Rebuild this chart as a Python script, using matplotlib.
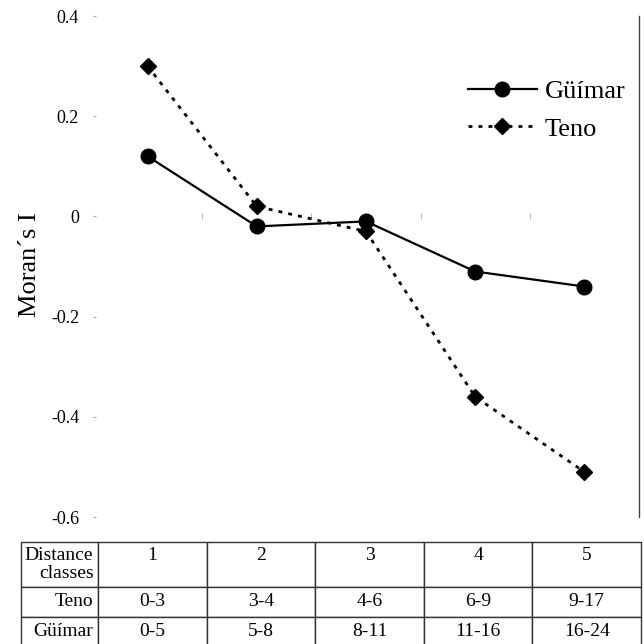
import matplotlib
matplotlib.use("Agg")
import matplotlib.pyplot as plt

plt.rcParams['font.family'] = ['Liberation Serif', 'DejaVu Serif']

# distance classes and Moran's I values
classes = [1, 2, 3, 4, 5]
guimar_i = [0.12, -0.02, -0.01, -0.11, -0.14]
teno_i = [0.30, 0.02, -0.03, -0.36, -0.51]

yticks = [-0.6, -0.4, -0.2, 0, 0.2, 0.4]
ytick_labels = ["-0.6", "-0.4", "-0.2", "0", "0.2", "0.4"]

# table below the chart
table_header = ["Distance\nclasses", "1", "2", "3", "4", "5"]
teno_ranges = ["0-3", "3-4", "4-6", "6-9", "9-17"]
guimar_ranges = ["0-5", "5-8", "8-11", "11-16", "16-24"]

fig = plt.figure(figsize=(6.44, 6.44), dpi=100)
W = 644.0
ax = fig.add_axes([93 / W, 1 - 517 / W, 546 / W, 501 / W])

ax.plot(classes, guimar_i, color='black', lw=1.6, marker='o', ms=10.5,
        label=u"Güímar")
ax.plot(classes, teno_i, color='black', lw=2, ls=(0, (1.4, 2.2)),
        marker='D', ms=8, label="Teno")

ax.set_xlim(0.5, 5.5)
ax.set_ylim(-0.6, 0.4)
ax.set_yticks(yticks)
ax.set_yticklabels(ytick_labels)
ax.tick_params(axis='y', direction='in', length=2, color='#aaaaaa',
               labelsize=13, pad=10)
ax.set_xticks([1.5, 2.5, 3.5, 4.5])
ax.set_xticklabels([])
ax.tick_params(axis='x', direction='inout', length=5, color='#bbbbbb')
ax.spines['bottom'].set_position(('data', 0))
ax.spines['bottom'].set_visible(False)
ax.spines['top'].set_visible(False)
ax.spines['left'].set_visible(False)
ax.spines['right'].set_color('#444444')
ax.spines['right'].set_linewidth(1)

fig.text(30 / W, 1 - 265 / W, u"Moran\u00b4s I", rotation=90,
         ha='center', va='center', fontsize=19)

leg = ax.legend(loc='center left', bbox_to_anchor=(468 / W, 1 - 110 / W),
                bbox_transform=fig.transFigure, frameon=False, fontsize=19,
                handlelength=2.6, handletextpad=0.3, labelspacing=0.55,
                borderpad=0, borderaxespad=0)

# table
tax = fig.add_axes([21 / W, 1 - 647 / W, 620 / W, 105 / W])
tax.axis('off')
cells = [[h if i == 0 else h + "\n " for i, h in enumerate(table_header)],
         ["Teno"] + teno_ranges,
         [u"Güímar"] + guimar_ranges]
col_w = [77] + [108.6] * 5
tot = sum(col_w)
tab = tax.table(cellText=cells, colWidths=[c / tot for c in col_w],
                bbox=[0, 0, 1, 1], cellLoc='center')
tab.auto_set_font_size(False)
row_h = [45 / 105, 30 / 105, 30 / 105]
for (r, c), cell in tab.get_celld().items():
    cell.set_edgecolor('#333333')
    cell.set_linewidth(1)
    cell.set_height(row_h[r])
    cell.get_text().set_fontsize(14)
    if c == 0:
        cell.get_text().set_ha('right')
        cell._loc = 'right'
        cell.PAD = 0.06
    if r == 0:
        cell.get_text().set_linespacing(1.15)

fig.savefig("out.png", dpi=100)
